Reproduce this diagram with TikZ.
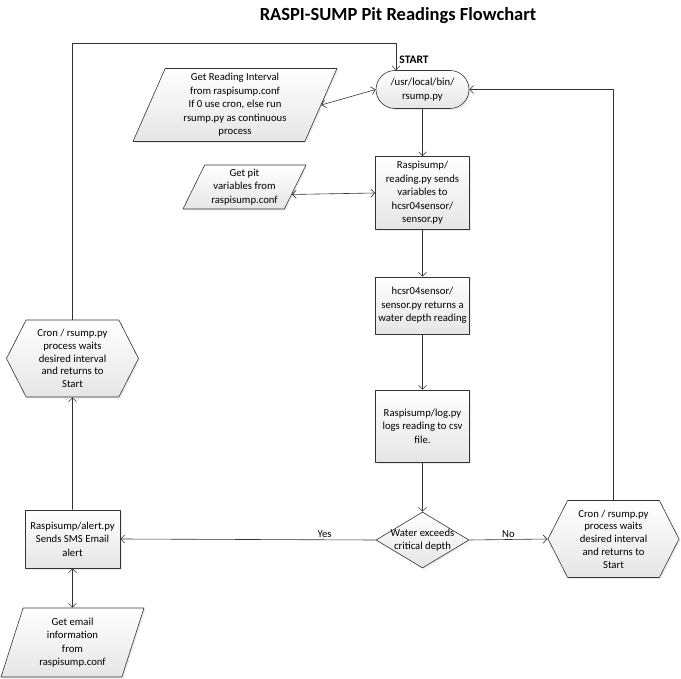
\documentclass[tikz,border=0pt]{standalone}
\usepackage{fontspec}
\setmainfont{Carlito}
\usetikzlibrary{shapes.geometric,shapes.misc,shapes.symbols,arrows.meta,calc,shadows}

\begin{document}
\begin{tikzpicture}[x=1pt, y=-1pt, line width=0.6pt, line join=round,
  font=\fontsize{10.7}{13.5}\selectfont,
  basebox/.style={draw=black!80, top color=white, bottom color=black!10,
    align=center, inner sep=0pt,
    drop shadow={opacity=0.15, shadow xshift=1.5pt, shadow yshift=-1.5pt}},
  procbox/.style={basebox, rectangle, minimum width=94pt},
  termbox/.style={basebox, rounded rectangle, minimum width=93pt, minimum height=38pt},
  iobox/.style 2 args={basebox, trapezium, trapezium stretches body,
    trapezium left angle=#1, trapezium right angle=#2},
  waitbox/.style={basebox, signal, signal to=west and east, signal pointer angle=126,
    minimum width=132pt, minimum height=77pt, font=\fontsize{10.7}{12.8}\selectfont},
  decbox/.style={basebox, diamond, minimum width=93pt, minimum height=56pt},
  arr/.style={draw=black!80, -{Straight Barb[length=4pt,width=8pt]}},
  dbl/.style={draw=black!80, {Straight Barb[length=4pt,width=8pt]}-{Straight Barb[length=4pt,width=8pt]}},
]

  % 钉死画布
  \path[use as bounding box] (0,0) rectangle (681,679);

  %% ════ 标题 ════
  \node[font=\fontsize{18.5}{22}\selectfont\bfseries] (title) at (398,16) {RASPI-SUMP Pit Readings Flowchart};
  \node[font=\fontsize{11.5}{13}\selectfont\bfseries] (startlbl) at (414,60) {START};

  %% ════ 节点 ════
  \node[termbox] (start) at (422.5,89.5) {/usr/local/bin/\\rsump.py};
  \node[iobox={63}{117}, minimum width=204pt, minimum height=73pt] (param1) at (235,105)
    {Get Reading Interval\\from raspisump.conf\\If 0 use cron, else run\\rsump.py as continuous\\process};
  \node[iobox={59}{121}, minimum width=123pt, minimum height=44pt] (param2) at (244.5,187)
    {Get pit\\variables from\\raspisump.conf};
  \node[procbox, minimum height=73pt] (read) at (422.5,193)
    {Raspisump/\\reading.py sends\\variables to\\hcsr04sensor/\\sensor.py};
  \node[procbox, minimum height=57pt] (sense) at (422.5,305.5)
    {hcsr04sensor/\\sensor.py returns a\\water depth reading};
  \node[procbox, minimum height=72pt] (log) at (422.5,426)
    {Raspisump/log.py\\logs reading to csv\\file.};
  \node[decbox, label={[align=center]center:Water exceeds\\critical depth}] (dia) at (422.5,540) {};
  \node[procbox, minimum width=95pt, minimum height=58pt] (alert) at (72.5,539)
    {Raspisump/alert.py\\Sends SMS Email\\alert};
  \node[waitbox] (hexL) at (72.5,358.5)
    {Cron / rsump.py\\process waits\\desired interval\\and returns to\\Start};
  \node[waitbox, minimum width=131pt] (hexR) at (613.5,539)
    {Cron / rsump.py\\process waits\\desired interval\\and returns to\\Start};
  \node[iobox={66}{114}, minimum width=143pt, minimum height=69pt] (param3) at (72.5,642.5)
    {Get email\\information\\from\\raspisump.conf};

  %% ════ 连线 ════
  \coordinate (loopL) at (396,43);
  \draw[arr] (hexL.north) |- (loopL) -- (loopL |- start.north);
  \draw[arr] (hexR.north) |- (start.east);
  \draw[dbl] (param1.east) -- (start.west);
  \draw[dbl] ($(param2.bottom right corner)!0.333!(param2.top right corner)$) -- (read.west);
  \draw[arr] (start) -- (read);
  \draw[arr] (read) -- (sense);
  \draw[arr] (sense) -- (log);
  \draw[arr] (log) -- (dia);
  \draw[arr] (dia.west) -- node[pos=0.2, above, inner sep=2pt] {Yes} (alert.east);
  \draw[arr] (dia.east) -- node[above, inner sep=2pt] {No} (hexR.west);
  \draw[arr] (alert) -- (hexL);
  \draw[dbl] (alert) -- (param3);
\end{tikzpicture}
\end{document}
